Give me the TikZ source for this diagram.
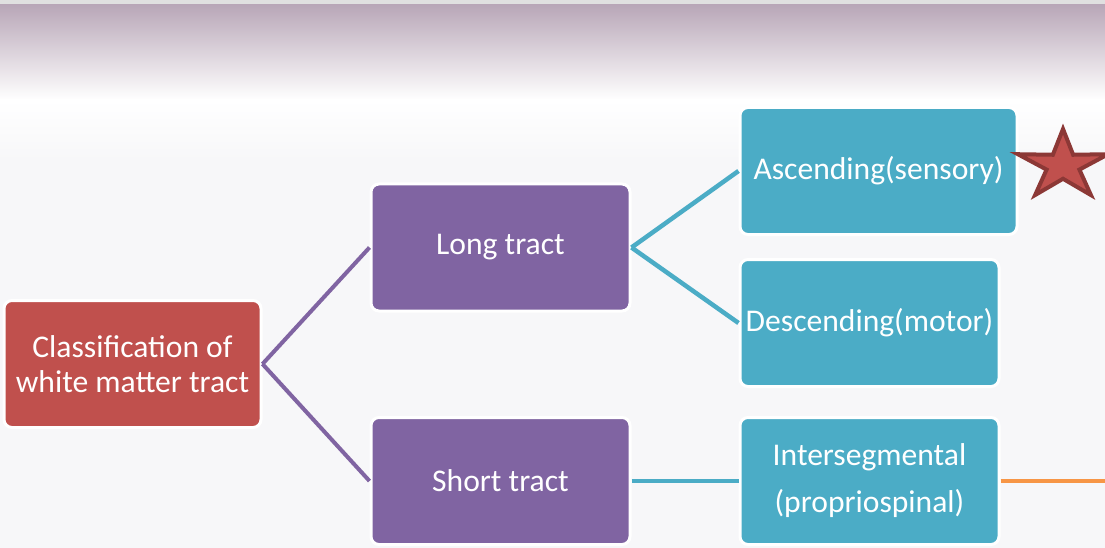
\documentclass[tikz,border=0pt]{standalone}
\usepackage{fontspec}
\setmainfont{Carlito}
\usetikzlibrary{shapes.geometric, positioning}
\definecolor{rootred}{HTML}{C0504D}
\definecolor{starline}{HTML}{8C3836}
\definecolor{tractpurple}{HTML}{8064A2}
\definecolor{kindteal}{HTML}{4BACC6}
\definecolor{linkorange}{HTML}{F79646}
\definecolor{bgpaper}{RGB}{247,247,249}
\definecolor{bgtop}{RGB}{184,166,183}
\tikzset{tractbox/.style = {%
    rectangle, rounded corners=8pt,
    draw=white, line width=3pt,
    text=white, align=center, inner sep=0pt,
    font=\fontsize{31.6}{35}\selectfont,
    minimum width=259pt, minimum height=127pt},
    rootbox/.style = {tractbox, fill=rootred, minimum width=257pt},
    longshort/.style = {tractbox, fill=tractpurple},
    kindbox/.style = {tractbox, fill=kindteal},
    purplelink/.style = {draw=tractpurple, line width=4pt},
    teallink/.style = {draw=kindteal, line width=4.5pt},
    orangelink/.style = {draw=linkorange, line width=4.5pt}}

\begin{document}
\begin{tikzpicture}[x=1pt, y=-1pt]
\useasboundingbox (0,0) rectangle (1105,548);
% background
\fill[bgpaper] (0,0) rectangle (1105,548);
\shade[top color=bgtop, bottom color=white] (0,4) rectangle (1105,100);
\shade[top color=white, bottom color=bgpaper] (0,100) rectangle (1105,160);
\fill[black!12] (0,0) rectangle (1105,4);

\node (root)  [rootbox]    at (132.5,364) {Classification of\\white matter tract};
\node (long)  [longshort]  at (500.5,247.5) {Long tract};
\node (short) [longshort]  at (500.5,481) {Short tract};
\node (asc)   [kindbox, minimum width=277pt] at (878.5,171) {Ascending(sensory)};
\node (desc)  [kindbox]    at (869.5,323) {Descending(motor)};
\node (inter) [kindbox, font=\fontsize{31.6}{47}\selectfont] at (869.5,481)
      {Intersegmental\\(propriospinal)};
\node (star)  [star, star points=5, star point ratio=2.75, minimum size=73pt,
      inner sep=0pt, fill=rootred, draw=starline, line width=4pt,
      xscale=1.3, transform shape] at (1063,165.5) {};
\coordinate (edge) at (1105,481);

\draw[purplelink] (root.east) -- (long.west);
\draw[purplelink] (root.east) -- (short.west);
\draw[teallink] (long.east) -- (asc.west);
\draw[teallink] (long.east) -- (desc.west);
\draw[teallink] (short.east) -- (inter.west);
\draw[orangelink] (inter.east) -- (edge);
\end{tikzpicture}
\end{document}
